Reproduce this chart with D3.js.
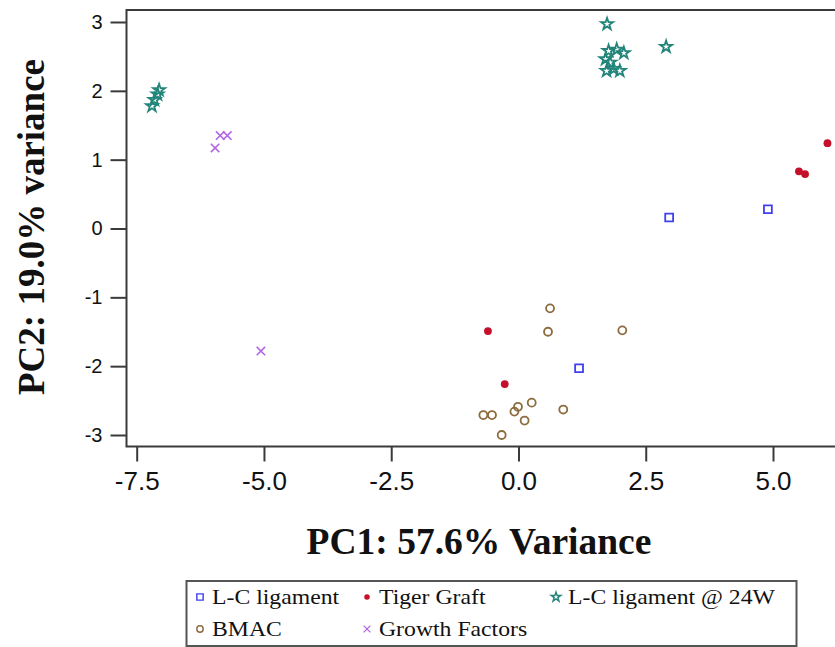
<!DOCTYPE html>
<html>
<head>
<meta charset="utf-8">
<script src="https://cdn.jsdelivr.net/npm/d3@7"></script>
<style>
  body { margin: 0; background: #fff; }
  svg { display: block; }
</style>
</head>
<body>
<div id="chart"></div>
<script>
// PC scores, [PC1, PC2]
const lcLigament = [[2.96, 0.16], [4.9, 0.28], [1.19, -2.03]];
const tigerGraft = [[6.07, 1.24], [5.51, 0.83], [5.63, 0.79], [-0.6, -1.49], [-0.27, -2.26]];
const lcLigament24W = [
  [-7.2, 1.78], [-7.15, 1.87], [-7.09, 1.95], [-7.06, 2.01],
  [1.74, 2.97], [2.9, 2.64], [1.77, 2.58], [1.93, 2.6], [2.07, 2.55],
  [1.71, 2.46], [1.8, 2.41], [1.73, 2.29], [1.87, 2.32], [1.99, 2.29],
];
const bmac = [
  [0.62, -1.16], [0.58, -1.5], [2.04, -1.48], [-0.69, -2.71], [-0.52, -2.71],
  [-0.08, -2.66], [-0.01, -2.59], [0.26, -2.53], [0.12, -2.79], [-0.33, -3.0], [0.88, -2.63],
];
const growthFactors = [[-5.86, 1.35], [-5.72, 1.35], [-5.96, 1.17], [-5.06, -1.78]];

const xTicks = [-7.5, -5.0, -2.5, 0.0, 2.5, 5.0];
const yTicks = [3, 2, 1, 0, -1, -2, -3];

const series = [
  { name: 'L-C ligament', data: lcLigament, type: 'square', color: '#4040ee' },
  { name: 'Tiger Graft', data: tigerGraft, type: 'dot', color: '#c4102a' },
  { name: 'L-C ligament @ 24W', data: lcLigament24W, type: 'star', color: '#23857a' },
  { name: 'BMAC', data: bmac, type: 'circle', color: '#8c6c3e' },
  { name: 'Growth Factors', data: growthFactors, type: 'times', color: '#b066e6' },
];

const width = 835;
const height = 647;
const frame = { left: 126.5, top: 10, bottom: 446.5, right: 845 };

const x = d3.scaleLinear().domain([-7.5, 5]).range([136.7, 773]);
const y = d3.scaleLinear().domain([-3, 3]).range([435, 22]);

const svg = d3.select('#chart').append('svg')
  .attr('width', width)
  .attr('height', height);

const symbolFor = (type) => {
  if (type === 'square') return d3.symbol(d3.symbolSquare, 62)();
  if (type === 'star') return d3.symbol(d3.symbolStar, 44)();
  if (type === 'times') return d3.symbol(d3.symbolTimes, 48)();
  if (type === 'circle') return d3.symbol(d3.symbolCircle, 50)();
  return d3.symbol(d3.symbolCircle, 48)();
};

const styleMark = (sel, s) => {
  if (s.type === 'dot') {
    sel.attr('fill', s.color).attr('stroke', 'none');
  } else {
    sel.attr('fill', 'none')
      .attr('stroke', s.color)
      .attr('stroke-width', s.type === 'times' ? 1.6 : 1.8);
  }
};

// frame
svg.append('rect')
  .attr('x', frame.left)
  .attr('y', frame.top)
  .attr('width', frame.right - frame.left)
  .attr('height', frame.bottom - frame.top)
  .attr('fill', 'none')
  .attr('stroke', '#3a3a3a')
  .attr('stroke-width', 2);

const tickFont = "'Liberation Sans Narrow', 'Liberation Sans', sans-serif";

// y axis
const yAxis = d3.axisLeft(y)
  .tickValues(yTicks)
  .tickSize(16)
  .tickPadding(8);

const gy = svg.append('g')
  .attr('transform', `translate(${frame.left},0)`)
  .call(yAxis);
gy.select('.domain').remove();
gy.selectAll('.tick line').attr('stroke', '#3a3a3a').attr('stroke-width', 2);
gy.selectAll('.tick text')
  .attr('font-family', tickFont)
  .attr('font-size', 20)
  .attr('fill', '#111')
  .text(d => String(d));

// x axis
const xAxis = d3.axisBottom(x)
  .tickValues(xTicks)
  .tickSize(15)
  .tickPadding(10);

const gx = svg.append('g')
  .attr('transform', `translate(0,${frame.bottom})`)
  .call(xAxis);
gx.select('.domain').remove();
gx.selectAll('.tick line').attr('stroke', '#3a3a3a').attr('stroke-width', 2);
gx.selectAll('.tick text')
  .attr('font-family', tickFont)
  .attr('font-size', 26)
  .attr('fill', '#111')
  .text(d => d.toFixed(1));

// axis titles
svg.append('text')
  .attr('x', 479)
  .attr('y', 554)
  .attr('text-anchor', 'middle')
  .attr('font-family', "'Liberation Serif', serif")
  .attr('font-weight', 'bold')
  .attr('font-size', 37.5)
  .attr('fill', '#111')
  .text('PC1: 57.6% Variance');

svg.append('text')
  .attr('transform', 'translate(44,227) rotate(-90)')
  .attr('text-anchor', 'middle')
  .attr('font-family', "'Liberation Serif', serif")
  .attr('font-weight', 'bold')
  .attr('font-size', 37)
  .attr('fill', '#111')
  .text('PC2: 19.0% variance');

// points
series.forEach((s) => {
  svg.append('g')
    .selectAll('path')
    .data(s.data)
    .enter().append('path')
    .attr('d', symbolFor(s.type))
    .attr('transform', d => `translate(${x(d[0])},${y(d[1])})`)
    .call(styleMark, s);
});

// legend
const legend = svg.append('g');
legend.append('rect')
  .attr('x', 186.5)
  .attr('y', 581)
  .attr('width', 610)
  .attr('height', 65)
  .attr('fill', '#fff')
  .attr('stroke', '#555')
  .attr('stroke-width', 2);

const legendPos = [[200, 597], [367, 597], [556, 597], [200, 629], [367, 629]];

const item = legend.selectAll('.item')
  .data(series)
  .enter().append('g')
  .attr('class', 'item')
  .attr('transform', (d, i) => `translate(${legendPos[i][0]},${legendPos[i][1]})`);

item.append('path')
  .attr('d', d => symbolFor(d.type))
  .each(function (d) { d3.select(this).call(styleMark, d); })
  .attr('transform', d => (d.type === 'dot' ? 'scale(0.7)' : 'scale(0.8)'));

item.append('text')
  .attr('transform', 'translate(12,7) scale(1.13,1)')
  .attr('font-family', "'Liberation Serif', serif")
  .attr('font-size', 21)
  .attr('fill', '#111')
  .text(d => d.name);
</script>
</body>
</html>
